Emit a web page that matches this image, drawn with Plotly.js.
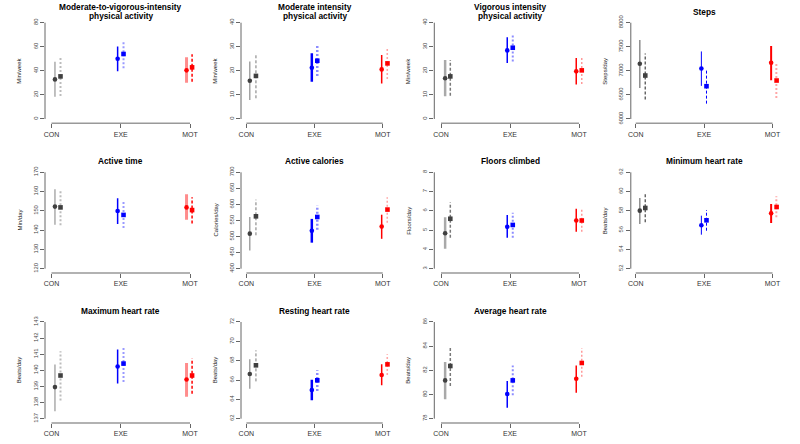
<!DOCTYPE html>
<html><head><meta charset="utf-8">
<script src="https://cdn.plot.ly/plotly-3.0.1.min.js"></script>
<style>html,body{margin:0;padding:0;background:#fff}#chart{width:800px;height:444px}</style>
</head><body><div id="chart"></div>
<script>
// ---------------- data ----------------
const groups = ['CON', 'EXE', 'MOT'];
const panelTitles = [
  'Moderate-to-vigorous-intensity\nphysical activity',
  'Moderate intensity\nphysical activity',
  'Vigorous intensity\nphysical activity',
  'Steps',
  'Active time',
  'Active calories',
  'Floors climbed',
  'Minimum heart rate',
  'Maximum heart rate',
  'Resting heart rate',
  'Average heart rate'
];
const yUnits = ['Min/week', 'Min/week', 'Min/week', 'Steps/day', 'Min/day', 'Calories/day',
  'Floors/day', 'Beats/day', 'Beats/day', 'Beats/day', 'Beats/day'];
const yTicks = [
  [0, 20, 40, 60, 80],
  [0, 10, 20, 30, 40],
  [0, 10, 20, 30, 40],
  [6000, 6500, 7000, 7500, 8000],
  [120, 130, 140, 150, 160, 170],
  [400, 450, 500, 550, 600, 650, 700],
  [3, 4, 5, 6, 7, 8],
  [52, 54, 56, 58, 60, 62],
  [137, 138, 139, 140, 141, 142, 143],
  [62, 64, 66, 68, 70, 72],
  [78, 80, 82, 84, 86]
];
// each entry per group (CON, EXE, MOT): [mean, lower, upper]
const mvpaSolid = [[32.9, 18.5, 47.6], [50.1, 39.6, 60.3], [40.4, 30.2, 51.2]];
const mvpaDashed = [[35.4, 19.1, 51.8], [54.0, 42.1, 63.7], [42.9, 31.0, 53.7]];
const moderateSolid = [[15.9, 7.9, 23.9], [21.3, 15.5, 27.3], [20.6, 14.7, 26.6]];
const moderateDashed = [[17.9, 8.6, 27.3], [24.2, 17.9, 30.4], [23.1, 16.6, 29.3]];
const vigorousSolid = [[16.9, 9.4, 24.5], [28.5, 23.3, 34.0], [19.8, 14.3, 25.3]];
const vigorousDashed = [[17.7, 9.7, 24.5], [29.6, 23.9, 35.0], [20.2, 14.5, 25.3]];
const stepsSolid = [[7146, 6646, 7639], [7049, 6688, 7403], [7167, 6806, 7514]];
const stepsDashed = [[6903, 6403, 7361], [6681, 6319, 7035], [6799, 6438, 7167]];
const activeTimeSolid = [[152.2, 142.8, 161.2], [149.9, 143.2, 156.5], [151.8, 145.4, 158.6]];
const activeTimeDashed = [[151.8, 142.5, 160.7], [147.9, 141.1, 154.8], [150.4, 143.5, 157.0]];
const caloriesSolid = [[509, 457, 561], [518, 481, 555], [531, 493, 568]];
const caloriesDashed = [[563, 504, 615], [561, 521, 597], [584, 543, 622]];
const floorsSolid = [[4.84, 4.04, 5.67], [5.17, 4.60, 5.78], [5.50, 4.91, 6.11]];
const floorsDashed = [[5.59, 4.60, 6.44], [5.27, 4.60, 5.90], [5.50, 4.91, 6.07]];
const minHRSolid = [[58.02, 56.64, 59.34], [56.50, 55.53, 57.50], [57.74, 56.74, 58.71]];
const minHRDashed = [[58.30, 56.81, 59.85], [57.02, 55.94, 58.09], [58.40, 57.33, 59.51]];
const maxHRSolid = [[138.96, 137.47, 140.36], [140.24, 139.19, 141.29], [139.43, 138.36, 140.46]];
const maxHRDashed = [[139.68, 138.13, 141.19], [140.42, 139.27, 141.45], [139.68, 138.55, 140.73]];
const restHRSolid = [[66.62, 65.10, 68.14], [64.97, 63.90, 66.03], [66.52, 65.45, 67.62]];
const restHRDashed = [[67.52, 65.86, 69.07], [65.97, 64.86, 67.00], [67.62, 66.52, 68.66]];
const avgHRSolid = [[81.17, 79.60, 82.69], [80.04, 78.91, 81.12], [81.31, 80.15, 82.41]];
const avgHRDashed = [[82.36, 80.70, 83.96], [81.17, 79.93, 82.41], [82.61, 81.48, 83.82]];

const solidSeries = [mvpaSolid, moderateSolid, vigorousSolid, stepsSolid, activeTimeSolid,
  caloriesSolid, floorsSolid, minHRSolid, maxHRSolid, restHRSolid, avgHRSolid];
const dashedSeries = [mvpaDashed, moderateDashed, vigorousDashed, stepsDashed, activeTimeDashed,
  caloriesDashed, floorsDashed, minHRDashed, maxHRDashed, restHRDashed, avgHRDashed];

// ---------------- layout / style config ----------------
const W = 800, H = 444;
const FONT = 'Liberation Sans, Arial, Helvetica, sans-serif';
const colGeom = [
  {axis: 45, con: 51.5, mot: 190},
  {axis: 241, con: 246.4, mot: 382.7},
  {axis: 434.3, con: 441, mot: 579},
  {axis: 630.8, con: 635.7, mot: 772.5}
];
const rowGeom = [
  {top: 22.7, bot: 119},
  {top: 172.3, bot: 268.7},
  {top: 322, bot: 418.7}
];
const YPAD = 0.045;
// x offsets of the two estimates around each group tick, by column
const colOffsets = [
  {solid: [0.05, -0.045, -0.05], dashed: [0.13, 0.04, 0.03]},
  {solid: [0.05, -0.04, -0.015], dashed: [0.14, 0.04, 0.07]},
  {solid: [0.06, -0.04, -0.04], dashed: [0.135, 0.04, 0.04]},
  {solid: [0.06, -0.04, -0.02], dashed: [0.14, 0.035, 0.06]}
];
const baseRGB = ['64,64,64', '0,0,255', '255,0,0'];
// [width, alpha, dash] per group, by column
const colStyles = [
  {solid: [[1.2, 0.55], [1.5, 1], [3, 0.45]], dashed: [[2, 0.35, 'dot'], [2, 0.4, 'dot'], [1.5, 1, 'dash']]},
  {solid: [[1.2, 0.6], [2.5, 1], [1.5, 1]], dashed: [[1, 0.7, 'dash'], [2.5, 0.45, 'dot'], [2, 0.35, 'dot']]},
  {solid: [[2.5, 0.45], [1.5, 1], [1.5, 1]], dashed: [[1.5, 0.7, 'dash'], [2, 0.45, 'dot'], [1.5, 0.4, 'dot']]},
  {solid: [[1.5, 0.6], [1, 1], [2, 1]], dashed: [[1.5, 0.8, 'dash'], [1, 1, 'dash'], [2.5, 0.35, 'dot']]}
];
const dashMap = {dot: '2px,2px', dash: '3px,2px'};

const traces = [];
const layout = {
  width: W, height: H,
  margin: {l: 0, r: 0, t: 0, b: 0},
  paper_bgcolor: '#fff', plot_bgcolor: '#fff',
  showlegend: false,
  font: {family: FONT, color: '#222'},
  shapes: [], annotations: []
};

panelTitles.forEach((title, i) => {
  const col = i % 4, row = Math.floor(i / 4);
  const cg = colGeom[col], rg = rowGeom[row];
  const n = i + 1;
  const xa = n === 1 ? 'x' : 'x' + n;
  const ya = n === 1 ? 'y' : 'y' + n;
  const xKey = n === 1 ? 'xaxis' : 'xaxis' + n;
  const yKey = n === 1 ? 'yaxis' : 'yaxis' + n;

  const u = (cg.mot - cg.con) / 2;
  const gap = cg.con - cg.axis;
  const xr0 = 1 - gap / u, xr1 = 3 + gap / u;
  const dx0 = cg.axis, dx1 = cg.mot + gap;
  const ticks = yTicks[i];
  const ymin = ticks[0], ymax = ticks[ticks.length - 1];
  const span = ymax - ymin;
  const pxSpan = rg.bot - rg.top;
  const yr0 = ymin - YPAD * span, yr1 = ymax + YPAD * span;
  const dyTop = rg.top - YPAD * pxSpan, dyBot = rg.bot + YPAD * pxSpan;

  layout[xKey] = {
    domain: [dx0 / W, dx1 / W], anchor: ya, range: [xr0, xr1],
    tickvals: [1, 2, 3], ticktext: groups, ticks: 'outside', ticklen: 4, tickwidth: 1,
    tickcolor: '#666', tickfont: {size: 7, color: '#333', family: FONT},
    showline: false, showgrid: false, zeroline: false, fixedrange: true
  };
  layout[yKey] = {
    domain: [1 - dyBot / H, 1 - dyTop / H], anchor: xa, range: [yr0, yr1],
    tickvals: ticks, tickangle: -90, ticks: 'outside', ticklen: 4, tickwidth: 1,
    tickcolor: '#666', tickfont: {size: 5.8, color: '#444', family: FONT},
    showline: false, showgrid: false, zeroline: false, fixedrange: true
  };
  layout.shapes.push({type: 'line', xref: xa + ' domain', yref: ya, x0: 0, x1: 0, y0: ymin, y1: ymax,
    line: {color: '#666', width: 1}});
  layout.shapes.push({type: 'line', xref: xa, yref: ya + ' domain', x0: 1, x1: 3, y0: 0, y1: 0,
    line: {color: '#999', width: 1.5}});

  const lines = title.split('\n');
  lines.forEach((ln, k) => {
    layout.annotations.push({
      xref: xa + ' domain', yref: ya + ' domain', x: 0.5, y: 1,
      yshift: 6.7 + ((lines.length - 1) / 2 - k) * 9,
      xanchor: 'center', yanchor: 'middle', showarrow: false,
      text: '<b>' + ln + '</b>', font: {size: 8.3, color: '#000', family: FONT}
    });
  });
  layout.annotations.push({
    xref: xa + ' domain', yref: ya + ' domain', x: 0, y: 0.5, xshift: -26,
    xanchor: 'center', yanchor: 'middle', showarrow: false, textangle: -90,
    text: yUnits[i], font: {size: 6, color: '#222', family: FONT}
  });

  ['solid', 'dashed'].forEach(kind => {
    const series = kind === 'solid' ? solidSeries[i] : dashedSeries[i];
    const styles = colStyles[col][kind];
    const offs = colOffsets[col][kind];
    series.forEach((v, g) => {
      const xpos = g + 1 + offs[g];
      const st = styles[g];
      traces.push({
        type: 'scatter', mode: 'lines', xaxis: xa, yaxis: ya,
        x: [xpos, xpos], y: [v[1], v[2]], hoverinfo: 'skip',
        line: {color: 'rgba(' + baseRGB[g] + ',' + st[1] + ')', width: st[0],
          dash: kind === 'solid' ? 'solid' : dashMap[st[2]]}
      });
      traces.push({
        type: 'scatter', mode: 'markers', xaxis: xa, yaxis: ya,
        x: [xpos], y: [v[0]], hoverinfo: 'skip', cliponaxis: false,
        marker: {symbol: kind === 'solid' ? 'circle' : 'square', size: 4.6,
          color: 'rgb(' + baseRGB[g] + ')', line: {width: 0}}
      });
    });
  });
});

Plotly.newPlot('chart', traces, layout, {staticPlot: true, displayModeBar: false});
</script>
</body></html>
